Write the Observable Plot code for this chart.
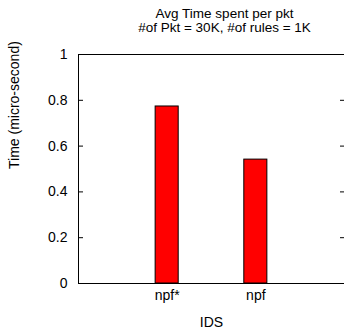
<!DOCTYPE html>
<html>
<head>
<meta charset="utf-8">
<script src="https://cdn.jsdelivr.net/npm/d3@7"></script>
<script src="https://cdn.jsdelivr.net/npm/@observablehq/plot@0.6"></script>
<style>
  html, body { margin: 0; padding: 0; background: #fff; overflow: hidden; }
  svg { display: block; }
</style>
</head>
<body>
<div id="chart"></div>
<script>
const ids = ["npf*", "npf"];
const times = [0.773, 0.541];
const yTicks = [0, 0.2, 0.4, 0.6, 0.8, 1];
const titleLines = ["Avg Time spent per pkt", "#of Pkt = 30K, #of rules = 1K"];

const data = ids.map((id, i) => ({id, i, t: times[i]}));
const font = "Liberation Sans, Arial, Helvetica, sans-serif";

const chart = Plot.plot({
  width: 344,
  height: 330,
  marginTop: 54,
  marginBottom: 47,
  marginLeft: 78,
  marginRight: 0,
  style: {fontFamily: font, fontSize: "14px", color: "#000", background: "#fff"},
  x: {domain: [-1, 2], axis: null},
  y: {domain: [0, 1], axis: null},
  marks: [
    Plot.rectY(data, {x1: d => d.i - 0.13, x2: d => d.i + 0.13, y1: 0, y2: "t", fill: "#ff0000", stroke: "#000", strokeWidth: 1}),
    Plot.ruleY([0, 1], {stroke: "#000", strokeWidth: 1}),
    Plot.ruleX([-1], {stroke: "#000", strokeWidth: 1}),
    Plot.axisY({anchor: "left", ticks: yTicks, tickFormat: d => String(d), tickSize: -5, tickPadding: 16, label: null, fontSize: 14}),
    Plot.axisY({anchor: "right", ticks: yTicks, tickSize: -5, tickFormat: () => "", label: null}),
    Plot.axisX({ticks: [0, 1], tickFormat: i => ids[i], tickSize: 0, tickPadding: 7, label: null, fontSize: 14}),
    Plot.text(["IDS"], {frameAnchor: "bottom", dy: 39, fontSize: 14, lineAnchor: "middle"}),
    Plot.text(["Time (micro-second)"], {frameAnchor: "left", dx: -64, rotate: -90, fontSize: 14, lineAnchor: "middle"}),
    Plot.text([titleLines[0]], {frameAnchor: "top", dx: 13, dy: -41, fontSize: 13.5, lineAnchor: "middle"}),
    Plot.text([titleLines[1]], {frameAnchor: "top", dx: 13, dy: -27, fontSize: 13.5, lineAnchor: "middle"})
  ]
});
document.getElementById("chart").appendChild(chart);
</script>
</body>
</html>
